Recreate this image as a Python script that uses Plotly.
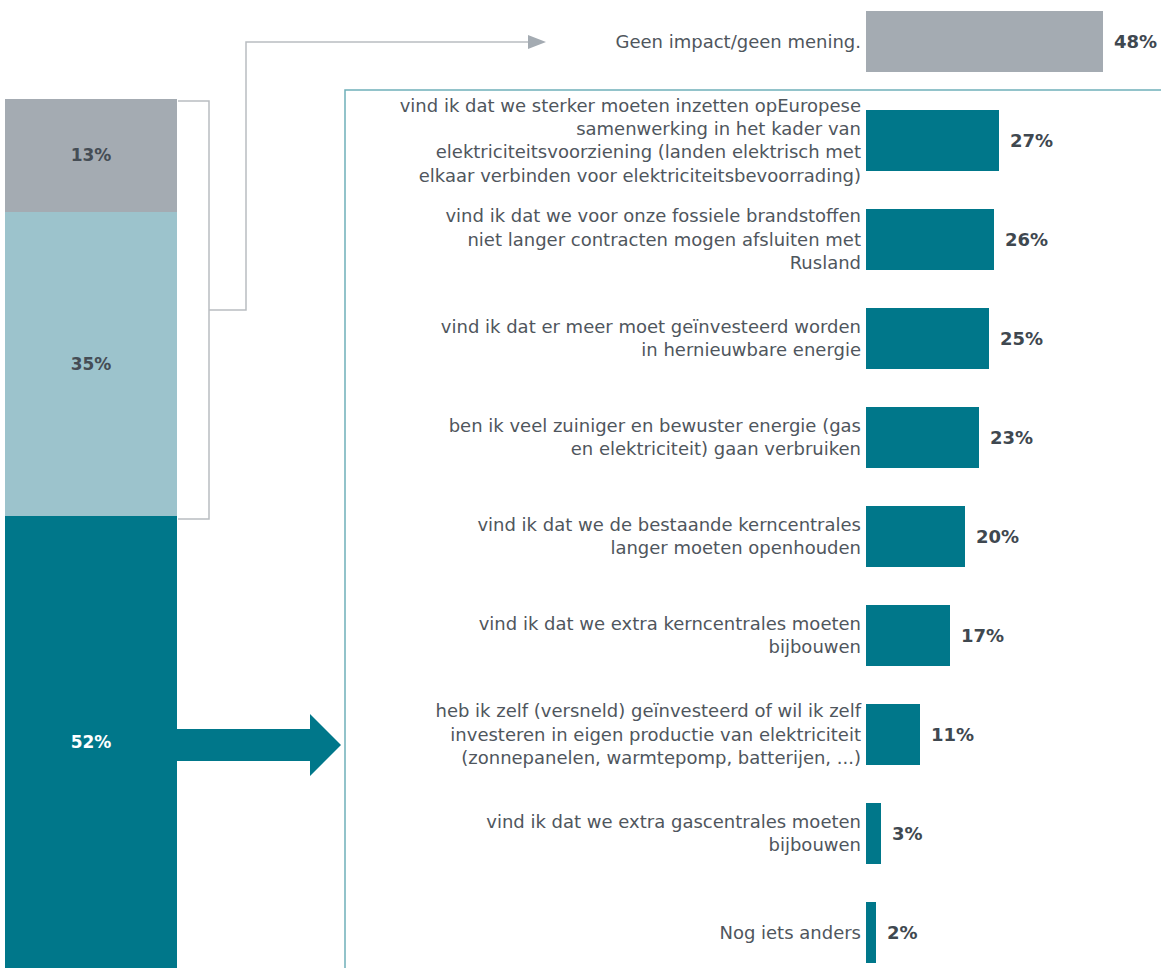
import plotly.graph_objects as go

W, H = 1161, 968

# ---- data ----
stack_labels = ["52%", "35%", "13%"]
stack_values = [52, 35, 13]
stack_colors = ["#00778a", "#9cc3cc", "#a4abb2"]

categories = [
    "Geen impact/geen mening.",
    "vind ik dat we sterker moeten inzetten opEuropese<br>samenwerking in het kader van<br>elektriciteitsvoorziening (landen elektrisch met<br>elkaar verbinden voor elektriciteitsbevoorrading)",
    "vind ik dat we voor onze fossiele brandstoffen<br>niet langer contracten mogen afsluiten met<br>Rusland",
    "vind ik dat er meer moet geïnvesteerd worden<br>in hernieuwbare energie",
    "ben ik veel zuiniger en bewuster energie (gas<br>en elektriciteit) gaan verbruiken",
    "vind ik dat we de bestaande kerncentrales<br>langer moeten openhouden",
    "vind ik dat we extra kerncentrales moeten<br>bijbouwen",
    "heb ik zelf (versneld) geïnvesteerd of wil ik zelf<br>investeren in eigen productie van elektriciteit<br>(zonnepanelen, warmtepomp, batterijen, ...)",
    "vind ik dat we extra gascentrales moeten<br>bijbouwen",
    "Nog iets anders",
]
values = [48, 27, 26, 25, 23, 20, 17, 11, 3, 2]
bar_colors = ["#a4abb2"] + ["#00778a"] * 9

TEAL = "#00778a"
GRAY_LINE = "#b9bdc1"
TEXT = "#4f565d"
VAL = "#3f4850"
FONT = "DejaVu Sans"

def px(x):
    return x / W

def py(y):
    return 1 - y / H

fig = go.Figure()

# Left stacked bar
for lab, v, c in zip(stack_labels, stack_values, stack_colors):
    fig.add_trace(go.Bar(
        x=["all"], y=[v], width=1, marker=dict(color=c, line=dict(width=0)),
        text=[lab], textposition="inside", insidetextanchor="middle",
        textangle=0,
        textfont=dict(family=FONT, size=17, color="#ffffff" if lab == "52%" else "#454d55", weight="bold"),
        xaxis="x", yaxis="y", showlegend=False, hoverinfo="skip",
    ))

# Right horizontal bars
fig.add_trace(go.Bar(
    x=values, y=categories, orientation="h", width=0.616,
    marker=dict(color=bar_colors, line=dict(width=0)),
    xaxis="x2", yaxis="y2", showlegend=False, hoverinfo="skip",
))

annotations = []
for c, v in zip(categories, values):
    annotations.append(dict(
        x=v, y=c, xref="x2", yref="y2", xanchor="left", yanchor="middle",
        xshift=9, text=f"{v}%", showarrow=False,
        font=dict(family=FONT, size=18, color=VAL, weight="bold"),
    ))

shapes = []
# teal outline box
shapes.append(dict(type="rect", xref="paper", yref="paper",
                   x0=px(345), x1=px(1175), y0=py(990), y1=py(90),
                   line=dict(color="#6fb0b9", width=1.5), fillcolor="rgba(0,0,0,0)", layer="below"))
# gray bracket
shapes.append(dict(type="path", xref="paper", yref="paper",
                   path=f"M {px(178)},{py(101)} L {px(209)},{py(101)} L {px(209)},{py(519)} L {px(178)},{py(519)}",
                   line=dict(color=GRAY_LINE, width=1.5)))
# gray connector
shapes.append(dict(type="path", xref="paper", yref="paper",
                   path=f"M {px(209)},{py(310)} L {px(246)},{py(310)} L {px(246)},{py(42)} L {px(530)},{py(42)}",
                   line=dict(color=GRAY_LINE, width=1.5)))
shapes.append(dict(type="path", xref="paper", yref="paper",
                   path=f"M {px(528)},{py(35)} L {px(546)},{py(42)} L {px(528)},{py(49)} Z",
                   line=dict(color="#a4abb2", width=0), fillcolor="#a4abb2"))
# big teal arrow
shapes.append(dict(type="path", xref="paper", yref="paper",
                   path=(f"M {px(177)},{py(729)} L {px(310)},{py(729)} L {px(310)},{py(714)} "
                         f"L {px(341)},{py(745)} L {px(310)},{py(776)} L {px(310)},{py(761)} "
                         f"L {px(177)},{py(761)} Z"),
                   line=dict(width=0), fillcolor=TEAL))

fig.update_layout(
    width=W, height=H, autosize=False,
    margin=dict(l=0, r=0, t=0, b=0),
    paper_bgcolor="white", plot_bgcolor="rgba(0,0,0,0)",
    barmode="stack",
    font=dict(family=FONT, color=TEXT),
    xaxis=dict(domain=[px(5), px(177)], range=[-0.5, 0.5], visible=False, fixedrange=True),
    yaxis=dict(domain=[0, py(99)], range=[0, 100], visible=False, fixedrange=True),
    xaxis2=dict(domain=[px(866), 1.0], range=[0, 295 / 4.93], visible=False, anchor="y2"),
    yaxis2=dict(domain=[0, 1], type="category", categoryorder="array", categoryarray=categories,
                range=[(968 - 41.5) / 99, -41.5 / 99], anchor="x2",
                showgrid=False, zeroline=False, showline=False, ticks="",
                ticklabelstandoff=4,
                tickfont=dict(family=FONT, size=18, color=TEXT)),
    shapes=shapes,
    annotations=annotations,
)

fig.write_html("out.html", config={"displayModeBar": False},
               post_script="document.body.style.margin='0';document.body.style.overflow='hidden';")
